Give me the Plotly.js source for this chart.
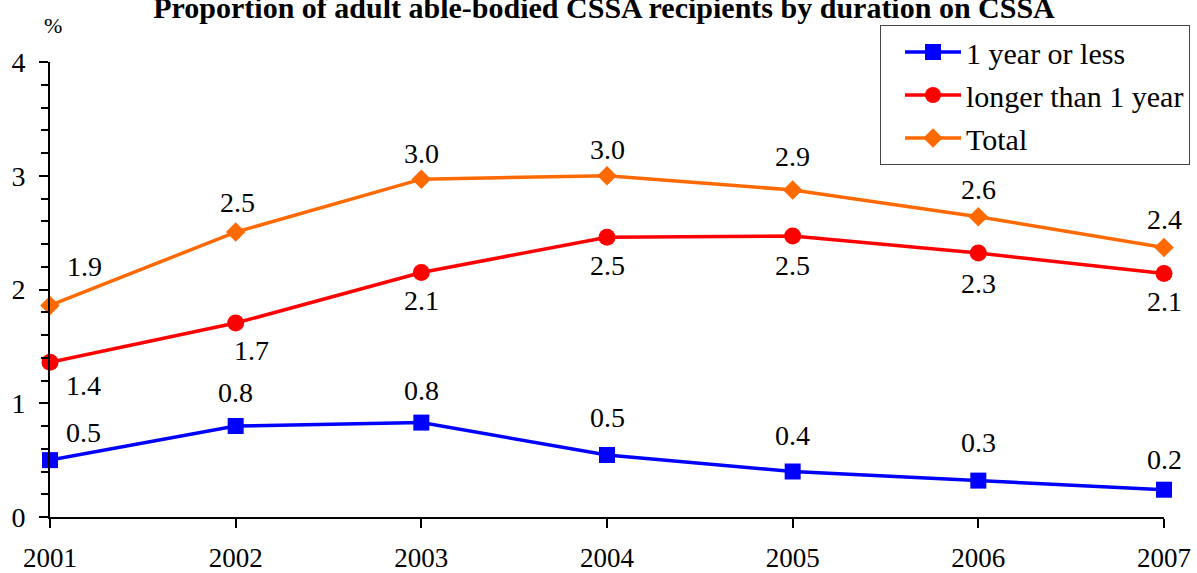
<!DOCTYPE html>
<html>
<head>
<meta charset="utf-8">
<script src="https://cdn.plot.ly/plotly-3.0.1.min.js"></script>
<style>html,body{margin:0;padding:0;background:#fff;}#chart{width:1197px;height:573px;}</style>
</head>
<body>
<div id="chart"></div>
<script>
const years = [2001, 2002, 2003, 2004, 2005, 2006, 2007];
const oneYearOrLess = [0.50, 0.80, 0.83, 0.545, 0.40, 0.32, 0.24];
const longerThanOneYear = [1.36, 1.705, 2.15, 2.46, 2.47, 2.32, 2.14];
const total = [1.86, 2.505, 2.97, 3.00, 2.875, 2.64, 2.37];
const seriesNames = ['1 year or less', 'longer than 1 year', 'Total'];
const yTickVals = [0, 1, 2, 3, 4];

const FONT = 'Liberation Serif';
const series = [
  {name: seriesNames[0], y: oneYearOrLess, color: '#0000FF', symbol: 'square', size: 16,
   offs: [[33,-28],[0,-34],[0,-32],[0,-38],[0,-36],[0,-38],[0,-30]]},
  {name: seriesNames[1], y: longerThanOneYear, color: '#FF0000', symbol: 'circle', size: 17,
   offs: [[33,23],[16,27],[0,28],[0,28],[0,29],[0,30],[0,28]]},
  {name: seriesNames[2], y: total, color: '#FF6A00', symbol: 'diamond', size: 15,
   offs: [[34,-39],[2,-30],[0,-26],[0,-26],[0,-33],[0,-27],[0,-28]]}
];

const traces = series.map((s, k) => ({
  x: years, y: s.y, name: s.name, type: 'scatter', mode: 'lines+markers',
  legendgroup: 'g' + k,
  line: {color: s.color, width: 3.5},
  marker: {color: s.color, symbol: s.symbol, size: s.size},
  cliponaxis: false
}));

const annotations = [];
series.forEach(s => {
  s.y.forEach((v, i) => {
    annotations.push({x: years[i], y: v, xref: 'x', yref: 'y', text: v.toFixed(1),
      showarrow: false, xshift: s.offs[i][0], yshift: -s.offs[i][1],
      font: {family: FONT, size: 28, color: '#000'}});
  });
});
annotations.push({text: '%', xref: 'paper', yref: 'paper', x: 0, y: 1, xshift: 3, yshift: 37,
  xanchor: 'center', yanchor: 'middle', showarrow: false, font: {family: FONT, size: 22, color: '#000'}});

const layout = {
  width: 1197, height: 573,
  margin: {l: 50, r: 33, t: 62, b: 56, autoexpand: false},
  paper_bgcolor: '#fff', plot_bgcolor: '#fff',
  font: {family: FONT, color: '#000'},
  title: {text: '<b>Proportion of adult able-bodied CSSA recipients by duration on CSSA</b>',
    font: {family: FONT, size: 30, color: '#000'}, x: 604 / 1197, xanchor: 'center',
    xref: 'container', y: 1 - 7 / 573, yref: 'container', yanchor: 'middle'},
  xaxis: {range: [2001, 2007], tickvals: years, ticktext: years.map(String),
    showgrid: false, zeroline: false, showline: true, linecolor: '#000', linewidth: 2,
    ticks: 'outside', ticklen: 9, tickwidth: 2, tickcolor: '#000',
    tickfont: {family: FONT, size: 27, color: '#000'}, ticklabelstandoff: 7},
  yaxis: {range: [0, 4], tickvals: yTickVals, showgrid: false, zeroline: false,
    showline: true, linecolor: '#000', linewidth: 2,
    ticks: 'outside', ticklen: 9, tickwidth: 2, tickcolor: '#000',
    minor: {dtick: 0.2, ticks: 'outside', ticklen: 7, tickwidth: 2, tickcolor: '#000', showgrid: false},
    tickfont: {family: FONT, size: 28, color: '#000'}, ticklabelstandoff: 8},
  legend: {xref: 'container', yref: 'container', x: 1190 / 1197, xanchor: 'right',
    y: 1 - 25 / 573, yanchor: 'top', bgcolor: '#fff',
    bordercolor: '#444', borderwidth: 1, font: {family: FONT, size: 30, color: '#000'},
    tracegroupgap: 1, itemwidth: 56, indentation: 19},
  annotations: annotations,
  showlegend: true
};

Plotly.newPlot('chart', traces, layout, {displayModeBar: false, staticPlot: true});
</script>
</body>
</html>
